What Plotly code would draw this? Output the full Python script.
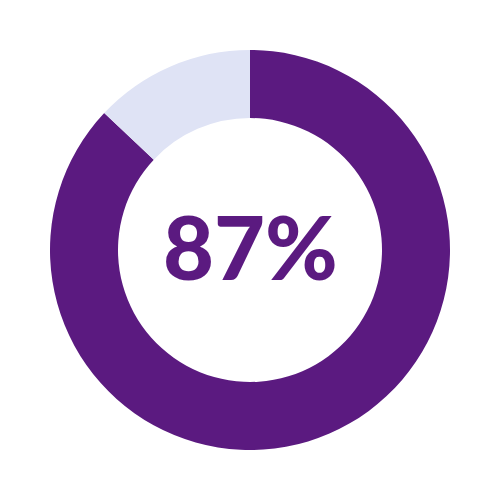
import plotly.graph_objects as go

labels = ["Yes", "No"]
values = [87, 13]
colors = ["#5B1A80", "#DFE3F5"]
center_text = "87%"

fig = go.Figure(go.Pie(
    labels=labels, values=values, hole=0.66, sort=False,
    direction="clockwise", rotation=0,
    marker=dict(colors=colors, line=dict(width=0)),
    textinfo="none", hoverinfo="label+percent", showlegend=False,
))
fig.add_annotation(text=center_text, x=0.5, y=0.5, xref="paper", yref="paper",
                   showarrow=False, yshift=4,
                   font=dict(family="Lato", size=88, color="#5B1A80", weight=900))
fig.update_layout(width=500, height=500, margin=dict(l=42, r=58, t=42, b=58),
                  paper_bgcolor="white", plot_bgcolor="white")
fig.write_html("out.html")
